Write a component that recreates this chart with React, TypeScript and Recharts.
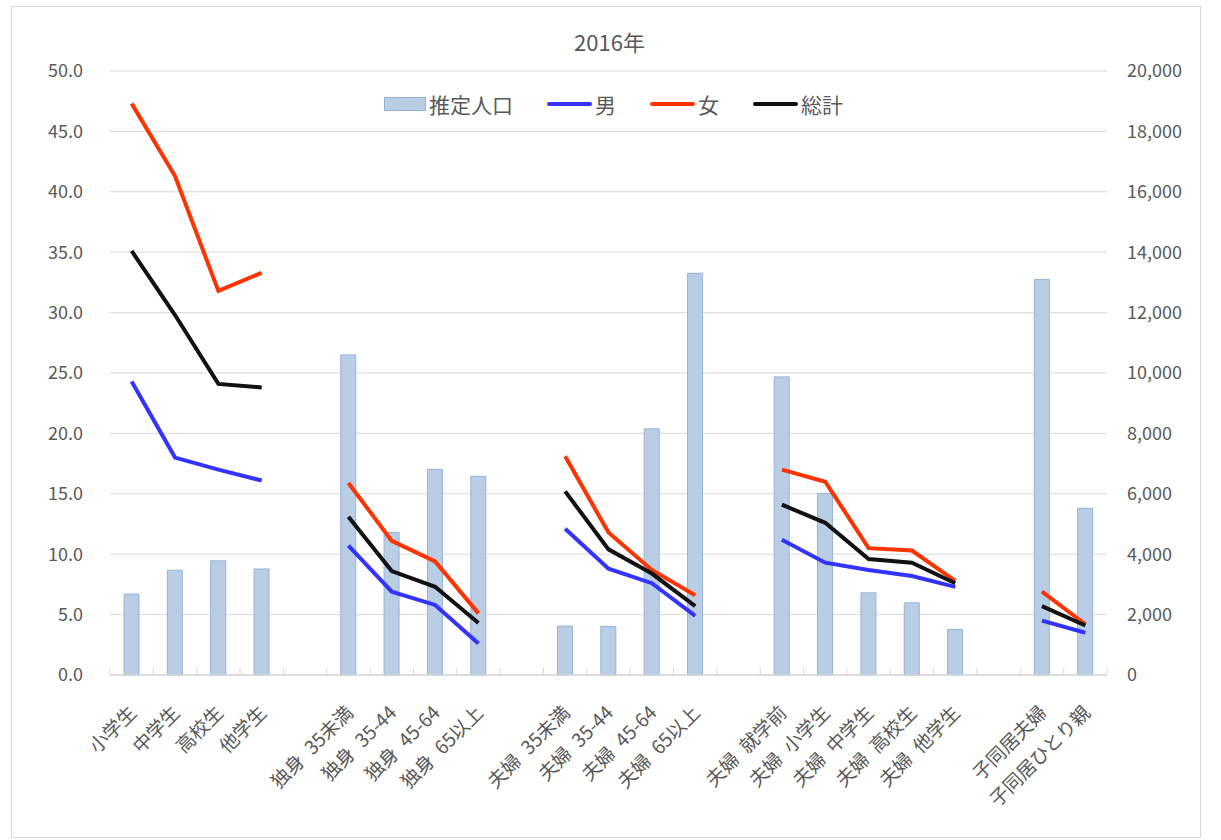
import React from 'react';
import { ComposedChart, Bar, Line, XAxis, YAxis, CartesianGrid, Legend } from 'recharts';

// categories (empty slots are the gaps between groups)
const categories = [
  '小学生', '中学生', '高校生', '他学生', '',
  '独身\u200235未満', '独身\u200235-44', '独身\u200245-64', '独身\u200265以上', '',
  '夫婦\u200235未満', '夫婦\u200235-44', '夫婦\u200245-64', '夫婦\u200265以上', '',
  '夫婦\u2002就学前', '夫婦\u2002小学生', '夫婦\u2002中学生', '夫婦\u2002高校生', '夫婦\u2002他学生', '',
  '子同居夫婦', '子同居ひとり親',
];

// 推定人口 (right axis)
const population = [
  2680, 3470, 3780, 3510, null,
  10600, 4720, 6810, 6580, null,
  1620, 1610, 8150, 13300, null,
  9870, 6010, 2720, 2390, 1510, null,
  13100, 5520,
];

// rates (left axis)
const male = [
  24.3, 18.0, 17.0, 16.1, null,
  10.7, 6.9, 5.8, 2.6, null,
  12.1, 8.8, 7.6, 4.9, null,
  11.2, 9.3, 8.7, 8.2, 7.3, null,
  4.5, 3.5,
];
const female = [
  47.3, 41.3, 31.8, 33.3, null,
  15.9, 11.1, 9.4, 5.1, null,
  18.1, 11.8, 8.7, 6.6, null,
  17.0, 16.0, 10.5, 10.3, 7.8, null,
  6.9, 4.2,
];
const total = [
  35.1, 29.8, 24.1, 23.8, null,
  13.1, 8.6, 7.3, 4.3, null,
  15.2, 10.4, 8.4, 5.7, null,
  14.1, 12.6, 9.6, 9.3, 7.6, null,
  5.7, 4.1,
];

const leftTicks = [0, 5, 10, 15, 20, 25, 30, 35, 40, 45, 50];
const rightTicks = [0, 2000, 4000, 6000, 8000, 10000, 12000, 14000, 16000, 18000, 20000];

const data = categories.map((name, i) => ({
  name,
  pop: population[i],
  male: male[i],
  female: female[i],
  total: total[i],
}));

const FONT = '"Noto Sans CJK JP", "Noto Sans", sans-serif';
const TEXT = '#595959';
const GRID = '#d9d9d9';

const PLOT_LEFT = 110;
const PLOT_RIGHT = 1107;
const STEP = (PLOT_RIGHT - PLOT_LEFT) / categories.length;

const CategoryTick = (props: any) => {
  const { x, y, payload, index } = props;
  const half = STEP / 2;
  const ty = y + 33;
  return (
    <g>
      <line x1={x - half} y1={y} x2={x - half} y2={y - 7} stroke={GRID} strokeWidth={1} />
      {index === categories.length - 1 && (
        <line x1={x + half} y1={y} x2={x + half} y2={y - 7} stroke={GRID} strokeWidth={1} />
      )}
      <text
        x={x}
        y={ty}
        transform={`rotate(-45, ${x}, ${ty})`}
        textAnchor="end"
        dominantBaseline="central"
        fill={TEXT}
        fontSize={19}
        fontFamily={FONT}
      >
        {payload.value}
      </text>
    </g>
  );
};

const legendItems = [
  { label: '推定人口', kind: 'bar', color: '#b9cde5' },
  { label: '男', kind: 'line', color: '#3333ff' },
  { label: '女', kind: 'line', color: '#ff3300' },
  { label: '総計', kind: 'line', color: '#111111' },
];

const LegendContent = () => (
  <div style={{ display: 'flex', justifyContent: 'center', alignItems: 'center', height: 30, paddingLeft: 6, fontFamily: FONT, fontSize: 21, color: TEXT }}>
    {legendItems.map((it, i) => (
      <div key={it.label} style={{ display: 'flex', alignItems: 'center', marginLeft: i === 0 ? 0 : 34 }}>
        {it.kind === 'bar' ? (
          <span style={{ display: 'inline-block', width: 40, height: 12, background: it.color, border: '1px solid #95b3d7' }} />
        ) : (
          <span style={{ display: 'inline-block', width: 45, height: 4, borderRadius: 2, background: it.color }} />
        )}
        <span style={{ marginLeft: 3 }}>{it.label}</span>
      </div>
    ))}
  </div>
);

export default function App() {
  return (
    <div style={{ position: 'absolute', left: 0, top: 0, width: 1221, height: 840, background: '#fff' }}>
      <div style={{ position: 'absolute', left: 11, top: 6, width: 1188, height: 830, border: '1px solid #d9d9d9' }} />
      <div style={{ position: 'absolute', left: 0, top: 26, width: 1219, textAlign: 'center', fontFamily: FONT, fontSize: 22, color: TEXT, lineHeight: '30px' }}>
        2016年
      </div>
      <div style={{ position: 'absolute', left: 0, top: 0 }}>
        <ComposedChart width={1221} height={840} data={data} margin={{ top: 71, right: 0, bottom: 0, left: 0 }} barSize={15}>
          <CartesianGrid vertical={false} stroke={GRID} strokeWidth={1} yAxisId="left" />
          <XAxis
            dataKey="name"
            height={165}
            interval={0}
            tickSize={0}
            tickMargin={0}
            stroke={GRID}
            strokeWidth={1.5}
            tick={<CategoryTick />}
          />
          <YAxis
            yAxisId="left"
            orientation="left"
            width={110}
            domain={[0, 50]}
            ticks={leftTicks}
            axisLine={false}
            tickLine={false}
            tickMargin={21}
            tickFormatter={(v: number) => v.toFixed(1)}
            tick={{ fill: TEXT, fontSize: 18, fontFamily: FONT }}
          />
          <YAxis
            yAxisId="right"
            orientation="right"
            width={114}
            domain={[0, 20000]}
            ticks={rightTicks}
            axisLine={false}
            tickLine={false}
            tickMargin={14}
            tickFormatter={(v: number) => v.toLocaleString('en-US')}
            tick={{ fill: TEXT, fontSize: 18, fontFamily: FONT, textAnchor: 'start' }}
          />
          <Legend
            verticalAlign="middle"
            align="center"
            layout="horizontal"
            content={<LegendContent />}
            wrapperStyle={{ top: 89, left: 0, width: 1221, height: 30 }}
          />
          <Bar yAxisId="right" dataKey="pop" name="推定人口" fill="#b9cde5" stroke="#95b3d7" strokeWidth={1} isAnimationActive={false} />
          <Line yAxisId="left" dataKey="male" name="男" stroke="#3333ff" strokeWidth={4} dot={false} activeDot={false} isAnimationActive={false} />
          <Line yAxisId="left" dataKey="female" name="女" stroke="#ff3300" strokeWidth={4} dot={false} activeDot={false} isAnimationActive={false} />
          <Line yAxisId="left" dataKey="total" name="総計" stroke="#111111" strokeWidth={4} dot={false} activeDot={false} isAnimationActive={false} />
        </ComposedChart>
      </div>
    </div>
  );
}
